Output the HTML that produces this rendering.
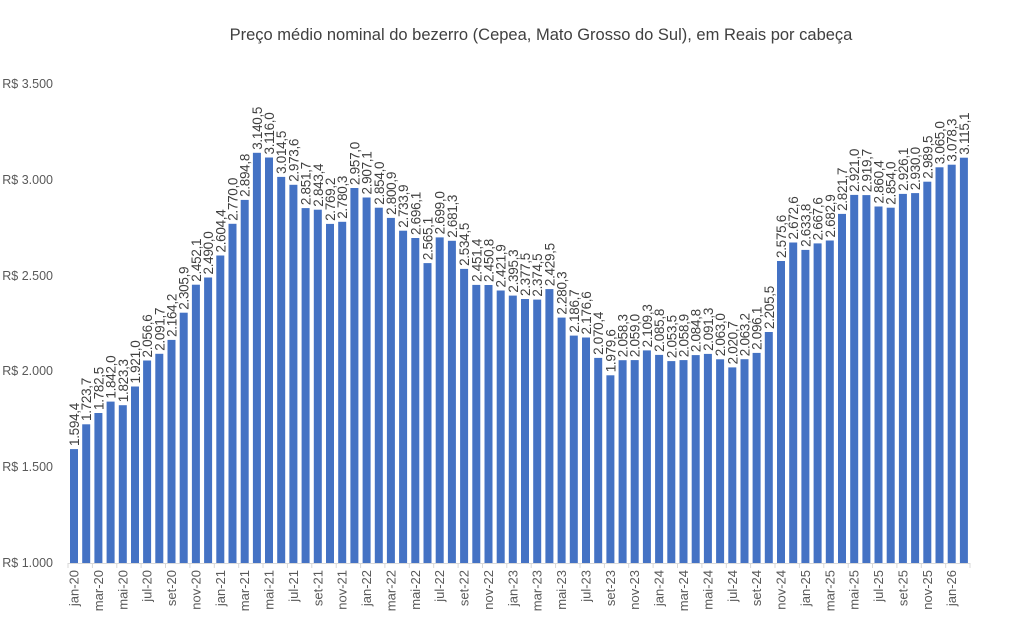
<!DOCTYPE html>
<html><head><meta charset="utf-8"><style>
html,body{margin:0;padding:0;background:#fff}
svg{display:block;font-family:"Liberation Sans",sans-serif}
.b{fill:#4472c4}
.d{font-size:13.5px;fill:#404040;letter-spacing:-0.3px}
.x{font-size:13px;fill:#595959;text-anchor:end}
.y{font-size:12.5px;fill:#595959;text-anchor:end}
</style></head><body>
<svg width="1011" height="629" viewBox="0 0 1011 629">
<text x="541" y="40" text-anchor="middle" font-size="16.5" fill="#404040">Preço médio nominal do bezerro (Cepea, Mato Grosso do Sul), em Reais por cabeça</text>
<text class="y" x="53" y="567">R$ 1.000</text>
<text class="y" x="53" y="471">R$ 1.500</text>
<text class="y" x="53" y="375">R$ 2.000</text>
<text class="y" x="53" y="280">R$ 2.500</text>
<text class="y" x="53" y="184">R$ 3.000</text>
<text class="y" x="53" y="88">R$ 3.500</text>
<line x1="68" y1="563.5" x2="970" y2="563.5" stroke="#d9d9d9"/>
<g stroke="#d9d9d9">
<line x1="68" y1="563" x2="68" y2="568"/><line x1="92.4" y1="563" x2="92.4" y2="568"/><line x1="116.8" y1="563" x2="116.8" y2="568"/><line x1="141.1" y1="563" x2="141.1" y2="568"/><line x1="165.5" y1="563" x2="165.5" y2="568"/><line x1="189.9" y1="563" x2="189.9" y2="568"/><line x1="214.3" y1="563" x2="214.3" y2="568"/><line x1="238.7" y1="563" x2="238.7" y2="568"/><line x1="263" y1="563" x2="263" y2="568"/><line x1="287.4" y1="563" x2="287.4" y2="568"/><line x1="311.8" y1="563" x2="311.8" y2="568"/><line x1="336.2" y1="563" x2="336.2" y2="568"/><line x1="360.6" y1="563" x2="360.6" y2="568"/><line x1="384.9" y1="563" x2="384.9" y2="568"/><line x1="409.3" y1="563" x2="409.3" y2="568"/><line x1="433.7" y1="563" x2="433.7" y2="568"/><line x1="458.1" y1="563" x2="458.1" y2="568"/><line x1="482.5" y1="563" x2="482.5" y2="568"/><line x1="506.8" y1="563" x2="506.8" y2="568"/><line x1="531.2" y1="563" x2="531.2" y2="568"/><line x1="555.6" y1="563" x2="555.6" y2="568"/><line x1="580" y1="563" x2="580" y2="568"/><line x1="604.4" y1="563" x2="604.4" y2="568"/><line x1="628.7" y1="563" x2="628.7" y2="568"/><line x1="653.1" y1="563" x2="653.1" y2="568"/><line x1="677.5" y1="563" x2="677.5" y2="568"/><line x1="701.9" y1="563" x2="701.9" y2="568"/><line x1="726.3" y1="563" x2="726.3" y2="568"/><line x1="750.6" y1="563" x2="750.6" y2="568"/><line x1="775" y1="563" x2="775" y2="568"/><line x1="799.4" y1="563" x2="799.4" y2="568"/><line x1="823.8" y1="563" x2="823.8" y2="568"/><line x1="848.2" y1="563" x2="848.2" y2="568"/><line x1="872.5" y1="563" x2="872.5" y2="568"/><line x1="896.9" y1="563" x2="896.9" y2="568"/><line x1="921.3" y1="563" x2="921.3" y2="568"/><line x1="945.7" y1="563" x2="945.7" y2="568"/><line x1="970" y1="563" x2="970" y2="568"/>
</g>
<g class="b">
<rect x="70" y="449.1" width="8" height="113.9"/>
<rect x="82.2" y="424.3" width="8" height="138.7"/>
<rect x="94.4" y="413" width="8" height="150"/>
<rect x="106.6" y="401.6" width="8" height="161.4"/>
<rect x="118.8" y="405.2" width="8" height="157.8"/>
<rect x="131" y="386.5" width="8" height="176.5"/>
<rect x="143.1" y="360.5" width="8" height="202.5"/>
<rect x="155.3" y="353.8" width="8" height="209.2"/>
<rect x="167.5" y="339.9" width="8" height="223.1"/>
<rect x="179.7" y="312.7" width="8" height="250.3"/>
<rect x="191.9" y="284.7" width="8" height="278.3"/>
<rect x="204.1" y="277.5" width="8" height="285.5"/>
<rect x="216.3" y="255.5" width="8" height="307.5"/>
<rect x="228.5" y="223.8" width="8" height="339.2"/>
<rect x="240.7" y="199.9" width="8" height="363.1"/>
<rect x="252.9" y="152.8" width="8" height="410.2"/>
<rect x="265" y="157.5" width="8" height="405.5"/>
<rect x="277.2" y="176.9" width="8" height="386.1"/>
<rect x="289.4" y="184.8" width="8" height="378.2"/>
<rect x="301.6" y="208.1" width="8" height="354.9"/>
<rect x="313.8" y="209.7" width="8" height="353.3"/>
<rect x="326" y="223.9" width="8" height="339.1"/>
<rect x="338.2" y="221.8" width="8" height="341.2"/>
<rect x="350.4" y="188" width="8" height="375"/>
<rect x="362.6" y="197.5" width="8" height="365.5"/>
<rect x="374.8" y="207.7" width="8" height="355.3"/>
<rect x="386.9" y="217.9" width="8" height="345.1"/>
<rect x="399.1" y="230.7" width="8" height="332.3"/>
<rect x="411.3" y="238" width="8" height="325"/>
<rect x="423.5" y="263.1" width="8" height="299.9"/>
<rect x="435.7" y="237.4" width="8" height="325.6"/>
<rect x="447.9" y="240.8" width="8" height="322.2"/>
<rect x="460.1" y="268.9" width="8" height="294.1"/>
<rect x="472.3" y="284.9" width="8" height="278.1"/>
<rect x="484.5" y="285" width="8" height="278"/>
<rect x="496.7" y="290.5" width="8" height="272.5"/>
<rect x="508.8" y="295.6" width="8" height="267.4"/>
<rect x="521" y="299" width="8" height="264"/>
<rect x="533.2" y="299.6" width="8" height="263.4"/>
<rect x="545.4" y="289.1" width="8" height="273.9"/>
<rect x="557.6" y="317.6" width="8" height="245.4"/>
<rect x="569.8" y="335.6" width="8" height="227.4"/>
<rect x="582" y="337.5" width="8" height="225.5"/>
<rect x="594.2" y="357.9" width="8" height="205.1"/>
<rect x="606.4" y="375.3" width="8" height="187.7"/>
<rect x="618.6" y="360.2" width="8" height="202.8"/>
<rect x="630.7" y="360.1" width="8" height="202.9"/>
<rect x="642.9" y="350.4" width="8" height="212.6"/>
<rect x="655.1" y="354.9" width="8" height="208.1"/>
<rect x="667.3" y="361.1" width="8" height="201.9"/>
<rect x="679.5" y="360.1" width="8" height="202.9"/>
<rect x="691.7" y="355.1" width="8" height="207.9"/>
<rect x="703.9" y="353.9" width="8" height="209.1"/>
<rect x="716.1" y="359.3" width="8" height="203.7"/>
<rect x="728.3" y="367.4" width="8" height="195.6"/>
<rect x="740.5" y="359.2" width="8" height="203.8"/>
<rect x="752.6" y="352.9" width="8" height="210.1"/>
<rect x="764.8" y="332" width="8" height="231"/>
<rect x="777" y="261" width="8" height="302"/>
<rect x="789.2" y="242.5" width="8" height="320.5"/>
<rect x="801.4" y="249.9" width="8" height="313.1"/>
<rect x="813.6" y="243.4" width="8" height="319.6"/>
<rect x="825.8" y="240.5" width="8" height="322.5"/>
<rect x="838" y="213.9" width="8" height="349.1"/>
<rect x="850.2" y="194.9" width="8" height="368.1"/>
<rect x="862.4" y="195.1" width="8" height="367.9"/>
<rect x="874.5" y="206.5" width="8" height="356.5"/>
<rect x="886.7" y="207.7" width="8" height="355.3"/>
<rect x="898.9" y="193.9" width="8" height="369.1"/>
<rect x="911.1" y="193.1" width="8" height="369.9"/>
<rect x="923.3" y="181.7" width="8" height="381.3"/>
<rect x="935.5" y="167.3" width="8" height="395.7"/>
<rect x="947.7" y="164.7" width="8" height="398.3"/>
<rect x="959.9" y="157.7" width="8" height="405.3"/>
</g>
<g class="d">
<text transform="translate(79,446) rotate(-90)">1.594,4</text>
<text transform="translate(91.2,421) rotate(-90)">1.723,7</text>
<text transform="translate(103.4,410) rotate(-90)">1.782,5</text>
<text transform="translate(115.6,398.6) rotate(-90)">1.842,0</text>
<text transform="translate(127.8,402.2) rotate(-90)">1.823,3</text>
<text transform="translate(140,383.5) rotate(-90)">1.921,0</text>
<text transform="translate(152.1,357.5) rotate(-90)">2.056,6</text>
<text transform="translate(164.3,350.8) rotate(-90)">2.091,7</text>
<text transform="translate(176.5,336.9) rotate(-90)">2.164,2</text>
<text transform="translate(188.7,309.7) rotate(-90)">2.305,9</text>
<text transform="translate(200.9,281.7) rotate(-90)">2.452,1</text>
<text transform="translate(213.1,274.5) rotate(-90)">2.490,0</text>
<text transform="translate(225.3,252.5) rotate(-90)">2.604,4</text>
<text transform="translate(237.5,220.8) rotate(-90)">2.770,0</text>
<text transform="translate(249.7,196.9) rotate(-90)">2.894,8</text>
<text transform="translate(261.9,149.8) rotate(-90)">3.140,5</text>
<text transform="translate(274,154.5) rotate(-90)">3.116,0</text>
<text transform="translate(286.2,173.9) rotate(-90)">3.014,5</text>
<text transform="translate(298.4,181.8) rotate(-90)">2.973,6</text>
<text transform="translate(310.6,205.1) rotate(-90)">2.851,7</text>
<text transform="translate(322.8,206.7) rotate(-90)">2.843,4</text>
<text transform="translate(335,220.9) rotate(-90)">2.769,2</text>
<text transform="translate(347.2,218.8) rotate(-90)">2.780,3</text>
<text transform="translate(359.4,185) rotate(-90)">2.957,0</text>
<text transform="translate(371.6,194.5) rotate(-90)">2.907,1</text>
<text transform="translate(383.8,204.7) rotate(-90)">2.854,0</text>
<text transform="translate(395.9,214.9) rotate(-90)">2.800,9</text>
<text transform="translate(408.1,227.7) rotate(-90)">2.733,9</text>
<text transform="translate(420.3,235) rotate(-90)">2.696,1</text>
<text transform="translate(432.5,260.1) rotate(-90)">2.565,1</text>
<text transform="translate(444.7,234.4) rotate(-90)">2.699,0</text>
<text transform="translate(456.9,237.8) rotate(-90)">2.681,3</text>
<text transform="translate(469.1,265.9) rotate(-90)">2.534,5</text>
<text transform="translate(481.3,281.9) rotate(-90)">2.451,4</text>
<text transform="translate(493.5,282) rotate(-90)">2.450,8</text>
<text transform="translate(505.7,287.5) rotate(-90)">2.421,9</text>
<text transform="translate(517.8,292.6) rotate(-90)">2.395,3</text>
<text transform="translate(530,296) rotate(-90)">2.377,5</text>
<text transform="translate(542.2,296.6) rotate(-90)">2.374,5</text>
<text transform="translate(554.4,286.1) rotate(-90)">2.429,5</text>
<text transform="translate(566.6,314.6) rotate(-90)">2.280,3</text>
<text transform="translate(578.8,332.6) rotate(-90)">2.186,7</text>
<text transform="translate(591,334.5) rotate(-90)">2.176,6</text>
<text transform="translate(603.2,354.9) rotate(-90)">2.070,4</text>
<text transform="translate(615.4,372.3) rotate(-90)">1.979,6</text>
<text transform="translate(627.6,357.2) rotate(-90)">2.058,3</text>
<text transform="translate(639.7,357.1) rotate(-90)">2.059,0</text>
<text transform="translate(651.9,347.4) rotate(-90)">2.109,3</text>
<text transform="translate(664.1,351.9) rotate(-90)">2.085,8</text>
<text transform="translate(676.3,358.1) rotate(-90)">2.053,5</text>
<text transform="translate(688.5,357.1) rotate(-90)">2.058,9</text>
<text transform="translate(700.7,352.1) rotate(-90)">2.084,8</text>
<text transform="translate(712.9,350.9) rotate(-90)">2.091,3</text>
<text transform="translate(725.1,356.3) rotate(-90)">2.063,0</text>
<text transform="translate(737.3,364.4) rotate(-90)">2.020,7</text>
<text transform="translate(749.5,356.2) rotate(-90)">2.063,2</text>
<text transform="translate(761.6,349.9) rotate(-90)">2.096,1</text>
<text transform="translate(773.8,329) rotate(-90)">2.205,5</text>
<text transform="translate(786,258) rotate(-90)">2.575,6</text>
<text transform="translate(798.2,239.5) rotate(-90)">2.672,6</text>
<text transform="translate(810.4,246.9) rotate(-90)">2.633,8</text>
<text transform="translate(822.6,240.4) rotate(-90)">2.667,6</text>
<text transform="translate(834.8,237.5) rotate(-90)">2.682,9</text>
<text transform="translate(847,210.9) rotate(-90)">2.821,7</text>
<text transform="translate(859.2,191.9) rotate(-90)">2.921,0</text>
<text transform="translate(871.4,192.1) rotate(-90)">2.919,7</text>
<text transform="translate(883.5,203.5) rotate(-90)">2.860,4</text>
<text transform="translate(895.7,204.7) rotate(-90)">2.854,0</text>
<text transform="translate(907.9,190.9) rotate(-90)">2.926,1</text>
<text transform="translate(920.1,190.1) rotate(-90)">2.930,0</text>
<text transform="translate(932.3,178.7) rotate(-90)">2.989,5</text>
<text transform="translate(944.5,164.3) rotate(-90)">3.065,0</text>
<text transform="translate(956.7,161.7) rotate(-90)">3.078,3</text>
<text transform="translate(968.9,154.7) rotate(-90)">3.115,1</text>
</g>
<g class="x">
<text transform="translate(78.5,570) rotate(-90)">jan-20</text>
<text transform="translate(102.9,570) rotate(-90)">mar-20</text>
<text transform="translate(127.3,570) rotate(-90)">mai-20</text>
<text transform="translate(151.6,570) rotate(-90)">jul-20</text>
<text transform="translate(176,570) rotate(-90)">set-20</text>
<text transform="translate(200.4,570) rotate(-90)">nov-20</text>
<text transform="translate(224.8,570) rotate(-90)">jan-21</text>
<text transform="translate(249.2,570) rotate(-90)">mar-21</text>
<text transform="translate(273.5,570) rotate(-90)">mai-21</text>
<text transform="translate(297.9,570) rotate(-90)">jul-21</text>
<text transform="translate(322.3,570) rotate(-90)">set-21</text>
<text transform="translate(346.7,570) rotate(-90)">nov-21</text>
<text transform="translate(371.1,570) rotate(-90)">jan-22</text>
<text transform="translate(395.4,570) rotate(-90)">mar-22</text>
<text transform="translate(419.8,570) rotate(-90)">mai-22</text>
<text transform="translate(444.2,570) rotate(-90)">jul-22</text>
<text transform="translate(468.6,570) rotate(-90)">set-22</text>
<text transform="translate(493,570) rotate(-90)">nov-22</text>
<text transform="translate(517.3,570) rotate(-90)">jan-23</text>
<text transform="translate(541.7,570) rotate(-90)">mar-23</text>
<text transform="translate(566.1,570) rotate(-90)">mai-23</text>
<text transform="translate(590.5,570) rotate(-90)">jul-23</text>
<text transform="translate(614.9,570) rotate(-90)">set-23</text>
<text transform="translate(639.2,570) rotate(-90)">nov-23</text>
<text transform="translate(663.6,570) rotate(-90)">jan-24</text>
<text transform="translate(688,570) rotate(-90)">mar-24</text>
<text transform="translate(712.4,570) rotate(-90)">mai-24</text>
<text transform="translate(736.8,570) rotate(-90)">jul-24</text>
<text transform="translate(761.1,570) rotate(-90)">set-24</text>
<text transform="translate(785.5,570) rotate(-90)">nov-24</text>
<text transform="translate(809.9,570) rotate(-90)">jan-25</text>
<text transform="translate(834.3,570) rotate(-90)">mar-25</text>
<text transform="translate(858.7,570) rotate(-90)">mai-25</text>
<text transform="translate(883,570) rotate(-90)">jul-25</text>
<text transform="translate(907.4,570) rotate(-90)">set-25</text>
<text transform="translate(931.8,570) rotate(-90)">nov-25</text>
<text transform="translate(956.2,570) rotate(-90)">jan-26</text>
</g>
</svg>
</body></html>
